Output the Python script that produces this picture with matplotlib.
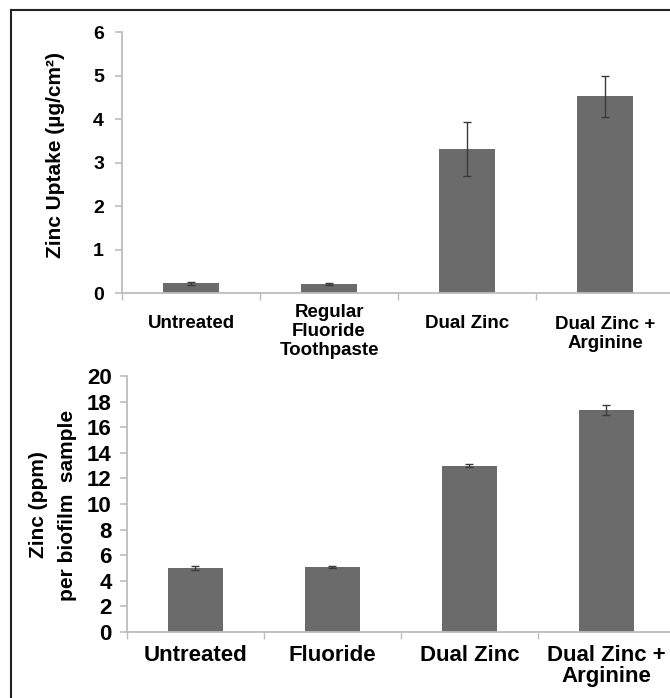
import matplotlib.pyplot as plt
from matplotlib.lines import Line2D

plt.rcParams['font.family'] = ['Liberation Sans', 'DejaVu Sans']
plt.rcParams['font.weight'] = 'bold'

# top panel: zinc uptake
top_labels = ['Untreated', 'Regular\nFluoride\nToothpaste', 'Dual Zinc', 'Dual Zinc +\nArginine']
top_values = [0.22, 0.20, 3.31, 4.52]
top_errors = [0.03, 0.02, 0.62, 0.47]

# bottom panel: zinc per biofilm sample
bot_labels = ['Untreated', 'Fluoride', 'Dual Zinc', 'Dual Zinc +\nArginine']
bot_values = [4.99, 5.08, 13.0, 17.37]
bot_errors = [0.15, 0.07, 0.10, 0.39]

bar_color = '#6b6b6b'
axis_color = '#bdbdbd'
W, H = 670, 698

fig = plt.figure(figsize=(W / 100, H / 100), dpi=100)


def setup(ax, values, errors, ymax, ystep, tick_size, pad):
    x = range(len(values))
    ax.bar(x, values, width=0.4, color=bar_color, zorder=2)
    ax.errorbar(x, values, yerr=errors, fmt='none', ecolor='#3a3a3a',
                elinewidth=1, capsize=3, capthick=1, zorder=3)
    ax.set_ylim(0, ymax)
    ax.set_yticks(range(0, ymax + 1, ystep))
    for s in ['top', 'right']:
        ax.spines[s].set_visible(False)
    for s in ['left', 'bottom']:
        ax.spines[s].set_color(axis_color)
        ax.spines[s].set_linewidth(1.3)
    ax.tick_params(axis='y', colors=axis_color, labelcolor='black',
                   length=5, width=1.2, labelsize=tick_size, pad=pad)
    ax.set_xticks([i - 0.5 for i in range(len(values) + 1)])
    ax.set_xticklabels([])
    ax.tick_params(axis='x', colors=axis_color, length=5, width=1)
    for t in ax.get_yticklabels():
        t.set_fontweight('bold')


# top axes
ax1 = fig.add_axes([122 / W, (H - 293) / H, 548 / W, 261 / H])
setup(ax1, top_values, top_errors, 6, 1, 14, 8)
ax1.set_xlim(-0.5, -0.5 + 548 / 138)
top_offsets = [22, 11, 22, 23]
for i, (lab, off) in enumerate(zip(top_labels, top_offsets)):
    ax1.annotate(lab, xy=(i, 0), xycoords=('data', 'axes fraction'),
                 xytext=(0, -off), textcoords='offset pixels',
                 ha='center', va='top', fontsize=13.5, fontweight='bold',
                 linespacing=1.15)
ax1.set_ylabel('Zinc Uptake (µg/cm²)', fontsize=15, fontweight='bold')
ax1.yaxis.set_label_coords(-0.104, 0.53)

# bottom axes
ax2 = fig.add_axes([127 / W, (H - 632) / H, 543 / W, 256 / H])
setup(ax2, bot_values, bot_errors, 20, 2, 16, 6)
ax2.set_xlim(-0.5, -0.5 + 543 / 137)
for i, lab in enumerate(bot_labels):
    ax2.annotate(lab, xy=(i, 0), xycoords=('data', 'axes fraction'),
                 xytext=(0, -13), textcoords='offset pixels',
                 ha='center', va='top', fontsize=16, fontweight='bold',
                 linespacing=1.0)
ax2.set_ylabel('Zinc (ppm)\nper biofilm  sample', fontsize=15,
               fontweight='bold', linespacing=1.7)
ax2.yaxis.set_label_coords(-0.092, 0.496)

# outer frame (clipped on right and bottom)
x0 = 11 / W
y0 = 1 - 10 / H
fig.add_artist(Line2D([x0, 1], [y0, y0], color='#222222', lw=1.5))
fig.add_artist(Line2D([x0, x0], [y0, 0], color='#222222', lw=1.5))

fig.savefig('out.png', dpi=100)
